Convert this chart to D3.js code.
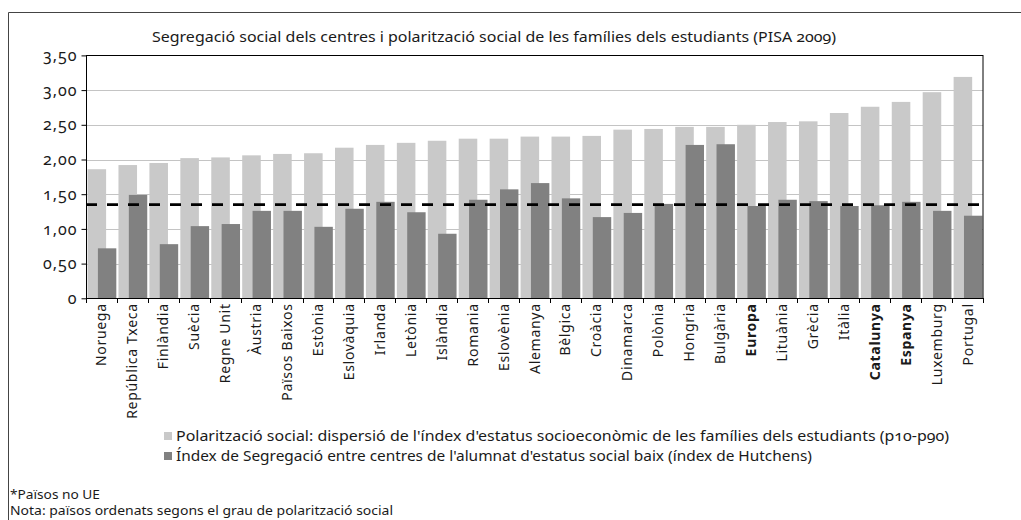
<!DOCTYPE html>
<html>
<head>
<meta charset="utf-8">
<script src="https://cdn.jsdelivr.net/npm/d3@7"></script>
<style>
  body { margin: 0; background: #fff; }
  text { fill: #1a1a1a; }
  .num { font-variant-numeric: oldstyle-nums; font-feature-settings: "onum" 1; }
</style>
</head>
<body>
<script>
// chart data
var countries = ["Noruega", "República Txeca", "Finlàndia", "Suècia", "Regne Unit", "Àustria",
    "Països Baixos", "Estònia", "Eslovàquia", "Irlanda", "Letònia", "Islàndia", "Romania",
    "Eslovènia", "Alemanya", "Bèlgica", "Croàcia", "Dinamarca", "Polònia", "Hongria",
    "Bulgària", "Europa", "Lituània", "Grècia", "Itàlia", "Catalunya", "Espanya",
    "Luxemburg", "Portugal"];

var polaritzacio = [1.86, 1.92, 1.95, 2.02, 2.03, 2.06, 2.08, 2.09, 2.17, 2.21, 2.24, 2.27, 2.30,
    2.30, 2.33, 2.33, 2.34, 2.43, 2.44, 2.47, 2.47, 2.50, 2.54, 2.55, 2.67, 2.76, 2.83,
    2.97, 3.19];

var segregacio = [0.72, 1.49, 0.78, 1.04, 1.07, 1.26, 1.26, 1.03, 1.29, 1.39, 1.24, 0.93, 1.42,
    1.57, 1.66, 1.44, 1.17, 1.23, 1.36, 2.21, 2.22, 1.33, 1.42, 1.40, 1.33, 1.34, 1.39,
    1.26, 1.19];

var boldNames = ["Europa", "Catalunya", "Espanya"];
var yTicks = [0, 0.5, 1, 1.5, 2, 2.5, 3, 3.5];
var mitjana = 1.35;

var seriesNames = [
    "Polarització social: dispersió de l'índex d'estatus socioeconòmic de les famílies dels estudiants (p10-p90)",
    "Índex de Segregació entre centres de l'alumnat d'estatus social baix (índex de Hutchens)"
];
var notes = ["*Països no UE", "Nota:  països ordenats segons el grau de polarització social"];

// set up
var W = 1021, H = 520;
var plot = { left: 86, right: 983, top: 55.4, bottom: 298.3 };
var lightColor = "#c9c9c9",
    darkColor = "#818181",
    font = "'Noto Sans', sans-serif";

var svg = d3.select("body")
    .append("svg")
    .attr("width", W)
    .attr("height", H);

// outer frame
svg.append("path")
    .attr("d", "M8.5," + H + "V12.5H" + W)
    .attr("fill", "none")
    .attr("stroke", "#444")
    .attr("stroke-width", 1);

var x = d3.scaleBand()
    .domain(countries)
    .range([plot.left, plot.right])
    .padding(0);

var y = d3.scaleLinear()
    .domain([0, 3.5])
    .range([plot.bottom, plot.top]);

var bw = x.bandwidth();

// gridlines
svg.append("g")
    .selectAll("line")
    .data(yTicks.filter(function(d) { return d > 0 && d < 3.5; }))
    .enter()
    .append("line")
    .attr("x1", plot.left)
    .attr("x2", plot.right)
    .attr("y1", function(d) { return Math.round(y(d)) + 0.5; })
    .attr("y2", function(d) { return Math.round(y(d)) + 0.5; })
    .attr("stroke", "#c4c4c4")
    .attr("stroke-width", 1);

// bars
svg.append("g")
    .selectAll("rect")
    .data(countries)
    .enter()
    .append("rect")
    .attr("x", function(d) { return x(d) + bw * 0.05; })
    .attr("width", bw * 0.60)
    .attr("y", function(d, i) { return y(polaritzacio[i]); })
    .attr("height", function(d, i) { return y(0) - y(polaritzacio[i]); })
    .attr("fill", lightColor);

svg.append("g")
    .selectAll("rect")
    .data(countries)
    .enter()
    .append("rect")
    .attr("x", function(d) { return x(d) + bw * 0.385; })
    .attr("width", bw * 0.595)
    .attr("y", function(d, i) { return y(segregacio[i]); })
    .attr("height", function(d, i) { return y(0) - y(segregacio[i]); })
    .attr("fill", darkColor);

// dashed reference line
svg.append("line")
    .attr("x1", plot.left)
    .attr("x2", plot.right)
    .attr("y1", y(mitjana))
    .attr("y2", y(mitjana))
    .attr("stroke", "#000")
    .attr("stroke-width", 2.7)
    .attr("stroke-dasharray", "11,10");

// plot frame
svg.append("rect")
    .attr("x", plot.left + 0.5)
    .attr("y", Math.round(plot.top) + 0.5)
    .attr("width", plot.right - plot.left - 0.5)
    .attr("height", Math.round(plot.bottom) - Math.round(plot.top))
    .attr("fill", "none")
    .attr("stroke", "#000")
    .attr("stroke-width", 1);

// y axis
var yAxis = d3.axisLeft(y)
    .tickValues(yTicks)
    .tickSize(5)
    .tickPadding(4)
    .tickFormat(function(d) { return d === 0 ? "0" : d3.format(".2f")(d).replace(".", ","); });

var gy = svg.append("g")
    .attr("transform", "translate(" + (plot.left + 0.5) + ",0)")
    .call(yAxis);
gy.select(".domain").remove();
gy.selectAll("line").attr("stroke", "#000");
gy.selectAll("text")
    .attr("class", "num")
    .style("font-family", font)
    .style("font-size", "16px")
    .style("letter-spacing", "1px")
    .attr("fill", "#1a1a1a");

// x axis ticks at band boundaries
svg.append("g")
    .selectAll("line")
    .data(countries.concat(["_end"]))
    .enter()
    .append("line")
    .attr("x1", function(d, i) { return Math.round(plot.left + i * bw) + 0.5; })
    .attr("x2", function(d, i) { return Math.round(plot.left + i * bw) + 0.5; })
    .attr("y1", Math.round(plot.bottom))
    .attr("y2", Math.round(plot.bottom) + 5)
    .attr("stroke", "#000");

// x labels
svg.append("g")
    .selectAll("text")
    .data(countries)
    .enter()
    .append("text")
    .attr("transform", function(d) {
        return "translate(" + (x(d) + bw / 2 + 5) + "," + (plot.bottom + 5) + ") rotate(-90)";
    })
    .attr("text-anchor", "end")
    .attr("font-family", font)
    .attr("font-size", "14px")
    .attr("letter-spacing", "0.7px")
    .attr("font-weight", function(d) { return boldNames.indexOf(d) >= 0 ? "700" : "400"; })
    .text(function(d) { return d; });

// title
svg.append("text")
    .attr("class", "num")
    .attr("x", 152)
    .attr("y", 42)
    .attr("font-family", font)
    .attr("font-size", "14px")
    .attr("textLength", 684)
    .attr("lengthAdjust", "spacingAndGlyphs")
    .text("Segregació social dels centres i polarització social de les famílies dels estudiants (PISA 2009)");

// legend
var legend = svg.append("g");
legend.selectAll("rect")
    .data(seriesNames)
    .enter()
    .append("rect")
    .attr("x", 164)
    .attr("y", function(d, i) { return 432 + i * 20; })
    .attr("width", 8)
    .attr("height", 8)
    .attr("fill", function(d, i) { return i === 0 ? lightColor : darkColor; });

legend.selectAll("text")
    .data(seriesNames)
    .enter()
    .append("text")
    .attr("class", "num")
    .attr("x", 176)
    .attr("y", function(d, i) { return 441 + i * 20; })
    .attr("font-family", font)
    .attr("font-size", "14px")
    .attr("textLength", function(d, i) { return i === 0 ? 773 : 636; })
    .attr("lengthAdjust", "spacingAndGlyphs")
    .text(function(d) { return d; });

// notes
svg.append("g")
    .selectAll("text")
    .data(notes)
    .enter()
    .append("text")
    .attr("x", 10)
    .attr("y", function(d, i) { return 499 + i * 16; })
    .attr("font-family", font)
    .attr("font-size", "12.5px")
    .attr("textLength", function(d, i) { return i === 0 ? 90 : 383; })
    .attr("lengthAdjust", "spacingAndGlyphs")
    .text(function(d) { return d; });
</script>
</body>
</html>
